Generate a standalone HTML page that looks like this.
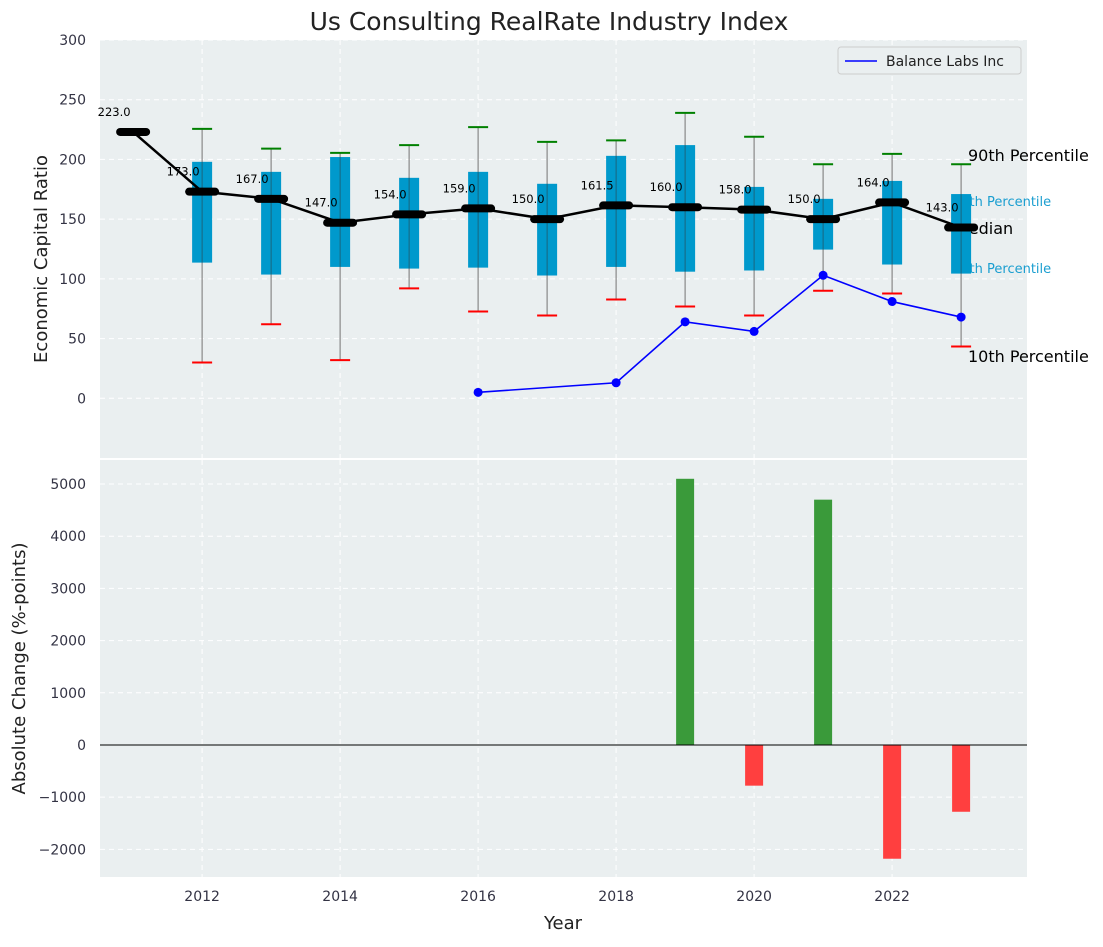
<!DOCTYPE html>
<html><head><meta charset="utf-8"><style>
body{margin:0;background:#fff;font-family:"Liberation Sans","DejaVu Sans",sans-serif}
svg text{font-family:"DejaVu Sans","Liberation Sans",sans-serif}
</style></head><body>
<svg id="c" width="1103" height="942" xmlns="http://www.w3.org/2000/svg"></svg>
<script>
const years=[2012,2013,2014,2015,2016,2017,2018,2019,2020,2021,2022,2023];
const q1=[113.6,103.6,110,108.6,109.4,102.8,110,106,107,124.5,112,104.4];
const q3=[198,189.6,202,184.6,189.6,179.6,203,212,177,167,182,171];
const p10=[30,62,32,92,72.7,69.3,82.7,76.9,69.3,90,87.7,43.4];
const p90=[225.6,209,205.5,212,227,214.7,216,239,219,196,204.7,196];
const medYears=[2011,2012,2013,2014,2015,2016,2017,2018,2019,2020,2021,2022,2023];
const medians=[223,173,167,147,154,159,150,161.5,160,158,150,164,143];
const compYears=[2016,2018,2019,2020,2021,2022,2023];
const compVals=[5,13,64,56,103,81,68];
const chgYears=[2019,2020,2021,2022,2023];
const chgVals=[5100,-780,4700,-2180,-1280];
const yTicksTop=[0,50,100,150,200,250,300];
const yTicksBot=[-2000,-1000,0,1000,2000,3000,4000,5000];
const xTicks=[2012,2014,2016,2018,2020,2022];

const NS="http://www.w3.org/2000/svg",svg=document.getElementById('c');
function el(t,a,p){const e=document.createElementNS(NS,t);for(const k in a)e.setAttribute(k,a[k]);(p||svg).appendChild(e);return e;}
const L=100,R=1027,T1=40,B1=458,T2=460,B2=877;
const X=v=>L+(v-2010.52)/(2023.955-2010.52)*(R-L);
const Y1=v=>B1-(v+50)/350*(B1-T1);
const Y2=v=>B2-(v+2530)/7990*(B2-T2);

let e=el('rect',{x:L,y:T1,width:R-L,height:B1-T1,fill:'#eaeff0'});

e=el('rect',{x:L,y:T2,width:R-L,height:B2-T2,fill:'#eaeff0'});

xTicks.forEach(t=>{[[T1,B1],[T2,B2]].forEach(([a,b])=>el('line',{x1:X(t),x2:X(t),y1:a,y2:b,stroke:'#fff','stroke-dasharray':'5,4','stroke-width':1}));});
yTicksTop.forEach(t=>{el('line',{x1:L,x2:R,y1:Y1(t),y2:Y1(t),stroke:'#fff','stroke-dasharray':'5,4'});
 const tx=el('text',{x:L-14,y:Y1(t)+5,'text-anchor':'end','font-size':14,fill:'#334'});tx.textContent=t;
 });
yTicksBot.forEach(t=>{el('line',{x1:L,x2:R,y1:Y2(t),y2:Y2(t),stroke:'#fff','stroke-dasharray':'5,4'});
 const tx=el('text',{x:L-14,y:Y2(t)+5,'text-anchor':'end','font-size':14,fill:'#334'});tx.textContent=t.toString().replace('-','−');
 });
xTicks.forEach(t=>{const tx=el('text',{x:X(t),y:B2+24,'text-anchor':'middle','font-size':14,fill:'#334'});tx.textContent=t;
 });

const rl=[["90th Percentile",968,161,16,'#000'],["75th Percentile",953,206,13,'#1a9ed0'],["Median",955,234,16,'#000'],["25th Percentile",953,273,13,'#1a9ed0'],["10th Percentile",968,362,16,'#000']];
rl.forEach(r=>{const tx=el('text',{x:r[1],y:r[2],'font-size':r[3],fill:r[4]});tx.textContent=r[0];
});

years.forEach((y,i)=>{const x=X(y);
 let w=el('line',{x1:x,x2:x,y1:Y1(p90[i]),y2:Y1(p10[i]),stroke:'#888','stroke-width':1.2});
 
 let b=el('rect',{x:x-10,y:Y1(q3[i]),width:20,height:Y1(q1[i])-Y1(q3[i]),fill:'#0099cc'});
 
 el('line',{x1:x,x2:x,y1:Y1(q3[i]),y2:Y1(q1[i]),stroke:'#333','stroke-width':1,opacity:0.5});
 let g=el('line',{x1:x-10,x2:x+10,y1:Y1(p90[i]),y2:Y1(p90[i]),stroke:'green','stroke-width':2});
 
 let r=el('line',{x1:x-10,x2:x+10,y1:Y1(p10[i]),y2:Y1(p10[i]),stroke:'red','stroke-width':2});
 
});
let ml=el('polyline',{points:medYears.map((y,i)=>X(y)+','+Y1(medians[i])).join(' '),fill:'none',stroke:'#000','stroke-width':2.5});

medYears.forEach((y,i)=>{const x=X(y),yy=Y1(medians[i]);
 let m=el('line',{x1:x-13,x2:x+13,y1:yy,y2:yy,stroke:'#000','stroke-width':8,'stroke-linecap':'round'});
 
 let t=el('text',{x:x-19,y:yy-16,'text-anchor':'middle','font-size':11.5,fill:'#000'});t.textContent=medians[i].toFixed(1);
 
});
let cl=el('polyline',{points:compYears.map((y,i)=>X(y)+','+Y1(compVals[i])).join(' '),fill:'none',stroke:'#0000ff','stroke-width':1.6});

compYears.forEach((y,i)=>{let c=el('circle',{cx:X(y),cy:Y1(compVals[i]),r:4.5,fill:'#0000ff'});
 });
let lg=el('g',{});
el('rect',{x:838,y:47,width:183,height:27,fill:'#eaeff0',stroke:'#ccc',rx:3},lg);
el('line',{x1:845,x2:877,y1:61,y2:61,stroke:'#0000ff','stroke-width':1.6},lg);
let lt=el('text',{x:886,y:66,'font-size':14,fill:'#222'},lg);lt.textContent='Balance Labs Inc';
chgYears.forEach((y,i)=>{const v=chgVals[i],a=Y2(Math.max(v,0)),b=Y2(Math.min(v,0));
 let r=el('rect',{x:X(y)-9,y:a,width:18,height:b-a,fill:v>=0?'#3a9a3a':'#ff3f3f'});
 });
el('line',{x1:L,x2:R,y1:Y2(0),y2:Y2(0),stroke:'#000','stroke-width':1});
let t=el('text',{x:549,y:30,'text-anchor':'middle','font-size':25,fill:'#222'});t.textContent='Us Consulting RealRate Industry Index';

t=el('text',{x:0,y:0,'text-anchor':'middle','font-size':18,fill:'#222',transform:`translate(47,${(T1+B1)/2+10}) rotate(-90)`});t.textContent='Economic Capital Ratio';

t=el('text',{x:0,y:0,'text-anchor':'middle','font-size':18,fill:'#222',transform:`translate(25,${(T2+B2)/2})rotate(-90)`});t.textContent='Absolute Change (%-points)';

t=el('text',{x:563,y:929,'text-anchor':'middle','font-size':18,fill:'#222'});t.textContent='Year';

</script>
</body></html>
